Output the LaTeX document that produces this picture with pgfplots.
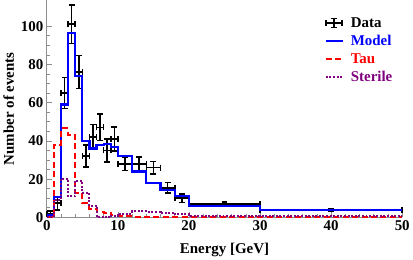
\documentclass[border=0pt]{standalone}
\usepackage{fontspec}
\setmainfont{Liberation Serif}
\usepackage{pgfplots}
\pgfplotsset{compat=1.18}
\definecolor{mpurple}{rgb}{0.5,0,0.5}
\begin{document}
\begin{tikzpicture}
\begin{axis}[
  scale only axis, width=357pt, height=218pt,
  xmin=0, xmax=50, ymin=0, ymax=113.5,
  axis lines*=left,
  axis line style={black!45, line width=0.6pt},
  tick align=inside,
  major tick length=5pt, minor tick length=3pt,
  every tick/.style={black!45, line width=0.6pt},
  xtick={0,10,...,50}, minor x tick num=4,
  ytick={0,20,...,100}, minor y tick num=3,
  /pgf/number format/assume math mode=true,
  ticklabel style={font=\bfseries\fontsize{15}{15}\selectfont},
  xlabel={Energy [GeV]}, ylabel={Number of events},
  xlabel style={yshift=-5pt},
  label style={font=\bfseries\fontsize{15}{15}\selectfont},
  clip=false,
  legend style={at={(rel axis cs:0.773,0.94)}, anchor=north west, draw=none, fill=none,
    font=\bfseries\fontsize{15}{17}\selectfont, row sep=2.5pt,
    /tikz/every odd column/.append style={column sep=5pt}},
  legend cell align=left,
]
\addplot[black, line width=1.6pt, draw=none, mark=none,
  legend image code/.code={
    \draw[black, line width=1.6pt] (0pt,0pt) -- (16pt,0pt);
    \draw[black, line width=1.6pt] (8pt,-4.5pt) -- (8pt,4.5pt);
    \draw[black, line width=1.6pt] (0pt,-2.8pt) -- (0pt,2.8pt);
    \draw[black, line width=1.6pt] (16pt,-2.8pt) -- (16pt,2.8pt);
    \draw[black, line width=1.6pt] (5.2pt,4.5pt) -- (10.8pt,4.5pt);
    \draw[black, line width=1.6pt] (5.2pt,-4.5pt) -- (10.8pt,-4.5pt);
  },
  error bars/.cd, x dir=both, x explicit, y dir=both, y explicit,
  error bar style={draw=black, solid, line width=1.6pt},
  error mark options={rotate=90, draw=black, solid, line width=1.6pt, mark size=3pt},
  ]
  table[x=x, y=y, x error=ex, y error=ey] {
x y ex ey
0.5 2 0.5 1.4
1.5 7.5 0.5 3.5
2.5 65 0.5 8.1
3.5 101 0.5 10
4.5 76 0.5 8.7
5.5 32 0.5 5.7
6.5 42 0.5 6.5
7.5 47 0.5 6.9
8.5 35 0.5 5.9
9.5 41 0.5 6.4
11 28 1 3.5
13 28 1 3.5
15 26 1 3.3
17 15.5 1 2.8
19 10 1 2.2
25 6.9 5 1.2
40 3.8 10 0.6
};
\addlegendentry{Data}
\addplot[blue, line width=2.2pt, const plot] coordinates {
(0,1)(1,10.7)(2,59)(3,96.3)(4,74)(5,40)(6,36)(7,38)(8,38.5)(9,37)(10,32)(12,24)(14,18)(16,14.5)(18,11)(20,5.9)(30,3.8)(50,3.8)};
\addlegendentry{\textcolor{blue}{Model}}
\addplot[red, line width=2pt, dash pattern=on 6pt off 3.5pt, const plot] coordinates {
(0,0)(1,38)(2,46.5)(3,43)(4,12.8)(5,7.5)(6,4.5)(7,3)(8,2.5)(9,1)(10,0.9)(12,0.4)(14,0.4)(16,0.4)(18,0.4)(20,0.4)(30,0.4)(50,0.4)};
\addlegendentry{\textcolor{red}{Tau}}
\addplot[mpurple, line width=2pt, dash pattern=on 2pt off 1.6pt, const plot] coordinates {
(0,0)(1,9)(2,20)(3,11)(4,19)(5,12.8)(6,6)(7,0.3)(8,0)(9,0.8)(10,2)(12,3.3)(14,3)(16,2.5)(18,1.5)(20,0.8)(30,0.6)(50,0.6)};
\addlegendentry{\textcolor{mpurple}{Sterile}}
\end{axis}
\end{tikzpicture}
\end{document}
